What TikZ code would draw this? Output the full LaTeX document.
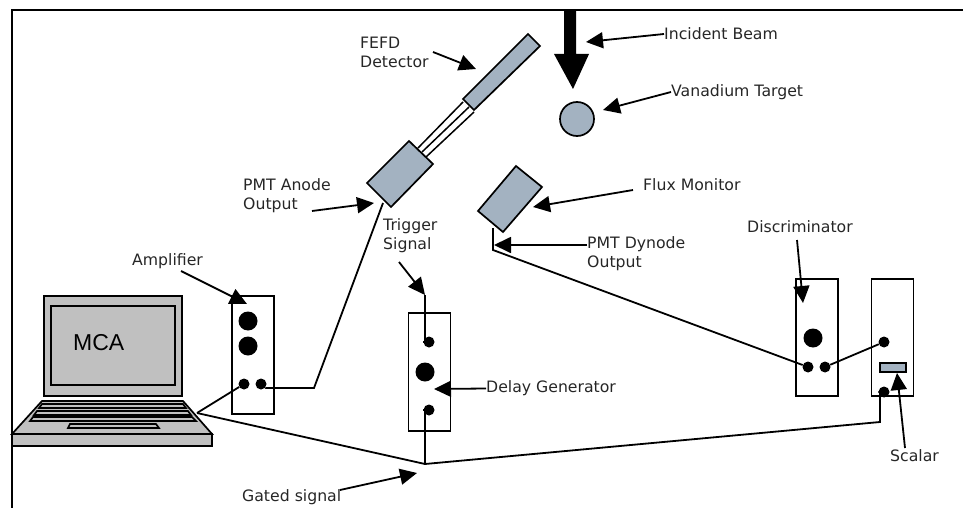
\documentclass[tikz,border=0pt]{standalone}
\usepackage{fontspec}
\setmainfont{DejaVu Sans}
\newfontfamily\mcafont{Liberation Sans}
\usetikzlibrary{arrows.meta}
\definecolor{steel}{RGB}{163,178,193}
\definecolor{lapgrey}{RGB}{192,192,192}
\tikzset{
label/.style={anchor=west,inner sep=0pt,align=left,font=\fontsize{15.7}{19}\selectfont,text=black!85},
wire/.style={draw,line width=1.8pt},
pointer/.style={line width=1.8pt,-{Triangle[length=17pt,width=16pt]}},
panel/.style={draw,line width=1.8pt,fill=white,minimum width=42pt,inner sep=0pt},
bigdot/.style={circle,fill=black,minimum size=19pt,inner sep=0pt},
smalldot/.style={circle,fill=black,minimum size=11pt,inner sep=0pt},
steelpart/.style={draw,line width=1.7pt,fill=steel},
lappart/.style={draw,line width=1.7pt,fill=lapgrey}
}
\begin{document}
\begin{tikzpicture}[x=1pt,y=-1pt]
\useasboundingbox (0,0) rectangle (963,508);
%frame
\coordinate (framebl) at (12,508);
\coordinate (frametl) at (12,10);
\coordinate (frametr) at (963,10);
\draw[line width=1.7pt] (framebl) -- (frametl) -- (frametr);
%laptop
\draw[lappart] (44,296) rectangle (182,396);
\draw[lappart] (51,306) rectangle (175,385);
\node (mca) [anchor=west,inner sep=0pt,font=\fontsize{23}{23}\mcafont] at (73,343) {MCA};
\draw[lappart] (42,401) -- (183,401) -- (212,434) -- (12,434) -- cycle;
\draw[lappart] (12,434) rectangle (212,446);
\draw[lappart] (42,404) -- (183,404) -- (186,408) -- (39,408) -- cycle;
\draw[lappart] (37,411) -- (188,411) -- (191,415) -- (34,415) -- cycle;
\draw[lappart] (33,417) -- (192,417) -- (196,421) -- (30,421) -- cycle;
\draw[lappart] (70,424) -- (156,424) -- (159,428) -- (68,428) -- cycle;
\coordinate (lapport) at (197,413);
%amplifier
\node (amp) [panel,minimum height=118pt] at (253,355) {};
\node (ampa) [bigdot] at (248,321) {};
\node (ampb) [bigdot] at (248,346) {};
\node (ampin) [smalldot] at (244,384) {};
\node (ampout) [smalldot] at (261,384) {};
%delay generator
\node (delay) [panel,minimum height=118pt] at (429.5,372) {};
\node (delaytop) [smalldot] at (429,342) {};
\node (delaymid) [bigdot] at (425,372) {};
\node (delaybot) [smalldot] at (429,410) {};
%discriminator and scalar
\node (disc) [panel,minimum height=117pt] at (817,337.5) {};
\node (discmid) [bigdot] at (813,338) {};
\node (discin) [smalldot] at (808,367) {};
\node (discout) [smalldot] at (825,367) {};
\node (scal) [panel,minimum height=117pt] at (892.5,337.5) {};
\node (scaltop) [smalldot] at (884,342) {};
\node (scalbot) [smalldot] at (884,392) {};
\node (scalwin) [draw,line width=1.6pt,fill=steel,minimum width=26pt,minimum height=9pt,inner sep=0pt] at (893,367.5) {};
%detector
\draw[line width=1.5pt] (463,102) -- (418,148) (469,107) -- (422,152) (474,112) -- (426,157);
\draw[steelpart] (528,34) -- (540,46) -- (474,110) -- (463,99) -- cycle;
\draw[steelpart] (409,141) -- (433,164) -- (391,207) -- (367,183) -- cycle;
\draw[steelpart] (516,166) -- (542,187) -- (503,232) -- (478,211) -- cycle;
\node (target) [circle,steelpart,minimum size=34pt,inner sep=0pt] at (577,119) {};
%beam
\fill (564,10) -- (576,10) -- (576,54) -- (589,54) -- (573,89) -- (554,54) -- (564,54) -- cycle;
%labels
\node (lbeam) [label] at (664,34) {Incident Beam};
\node (lvan) [label] at (671,92) {Vanadium Target};
\node (lfefd) [label] at (360,52) {FEFD\\Detector};
\node (lflux) [label] at (643,185) {Flux Monitor};
\node (lanode) [label] at (243,195.5) {PMT Anode\\Output};
\node (ltrig) [label] at (383,236) {Trigger\\Signal};
\node (ldyn) [label] at (587,254) {PMT Dynode\\Output};
\node (lamp) [label] at (132,261) {Amplifier};
\node (ldisc) [label] at (747,227) {Discriminator};
\node (ldel) [label] at (486,388.5) {Delay Generator};
\node (lscal) [label] at (890,456) {Scalar};
\node (lgate) [label] at (242,497) {Gated signal};
%wires
\coordinate (anodeend) at (383,203);
\coordinate (anodebend) at (314,388);
\coordinate (dynstart) at (493,228);
\coordinate (dynbend) at (493,250);
\coordinate (trigstart) at (425,295);
\coordinate (gatejoin) at (425,464);
\coordinate (scalbend) at (880,422);
\draw[wire] (ampout) -- (266,388) -- (anodebend) -- (anodeend);
\draw[wire] (dynstart) -- (dynbend) -- (discin);
\draw[wire] (discout) -- (scaltop);
\draw[wire] (lapport) -- (ampin);
\draw[wire] (lapport) -- (gatejoin) -- (scalbend) -- (880,392) -- (scalbot);
\draw[wire] (gatejoin) -- (425,410) -- (delaybot);
\draw[wire] (trigstart) -- (425,342) -- (delaytop);
%pointers
\draw[pointer] (lbeam.west) -- (586,42);
\draw[pointer] (lvan.west) -- (603,110);
\draw[pointer] (433,52) -- (476,69);
\draw[pointer] (633,190) -- (533,207);
\draw[pointer] (312,211) -- (374,203);
\draw[pointer] (399,262) -- (trigstart);
\draw[pointer] (ldyn.west |- 0,245) -- (494,245);
\draw[pointer] (181,271) -- (247,304);
\draw[pointer] (797,240) -- (803,303);
\draw[pointer] (ldel.west) -- (434,389);
\draw[pointer] (905,448) -- (897,373);
\draw[pointer] (340,490) -- (417,473);
\end{tikzpicture}
\end{document}
